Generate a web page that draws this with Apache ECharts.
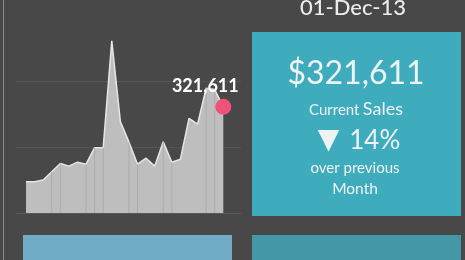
<!DOCTYPE html>
<html>
<head>
<meta charset="utf-8">
<script src="https://cdn.jsdelivr.net/npm/echarts@6/dist/echarts.min.js"></script>
<style>
html,body{margin:0;padding:0;background:#484848;}
#c{width:465px;height:260px;}
</style>
</head>
<body>
<div id="c"></div>
<script>
// ---- data ----
var months = ['Jan-12','Feb-12','Mar-12','Apr-12','May-12','Jun-12','Jul-12','Aug-12','Sep-12','Oct-12','Nov-12','Dec-12',
              'Jan-13','Feb-13','Mar-13','Apr-13','May-13','Jun-13','Jul-13','Aug-13','Sep-13','Oct-13','Nov-13','Dec-13'];
var sales = [95000, 95000, 100000, 125000, 150000, 142000, 154000, 148000, 198000, 198000, 522000, 277000,
             215000, 148000, 166000, 142000, 216000, 154000, 163000, 287000, 269000, 378000, 374000, 321611];
var dividerIdx = [3, 4, 7, 8, 9, 12, 13, 16, 17, 21, 22];
var yTicks = [0, 200000, 400000];
var currentDate = '01-Dec-13';

// ---- derived ----
var lastI = sales.length - 1;
var current = sales[lastI];
var prev = sales[lastI - 1];
var pct = Math.round(Math.abs(1 - current / prev) * 100);
var arrow = current < prev ? '▼' : '▲';
function fmt(n){ return n.toLocaleString('en-US'); }

var lineData = sales.map(function(v, i){ return [i, v]; });
var divData = dividerIdx.map(function(i){ return [i, sales[i]]; });

var chart = echarts.init(document.getElementById('c'), null, {renderer:'canvas'});
var FONT = 'Lato, "Open Sans", sans-serif';
var TXT = '#eef4f5';

chart.setOption({
  backgroundColor: '#484848',
  animation: false,
  grid: { left: 16, right: 224, top: 15, bottom: 47 },
  xAxis: {
    type: 'value', min: -1.1655, max: 25.063,
    axisLine: { show: true, lineStyle: { color: '#585858', width: 1 } },
    axisTick: { show: false }, axisLabel: { show: false }, splitLine: { show: false }
  },
  yAxis: {
    type: 'value', min: yTicks[0], max: 600000, interval: yTicks[1] - yTicks[0],
    axisLine: { show: false }, axisTick: { show: false }, axisLabel: { show: false },
    splitLine: { show: true, showMinLine: false, showMaxLine: false, lineStyle: { color: '#545454', width: 1 } }
  },
  series: [
    {
      type: 'line', data: lineData, symbol: 'none',
      lineStyle: { color: '#e6e6e6', width: 1.5 },
      areaStyle: { color: '#bebebe', opacity: 1 },
      z: 2
    },
    {
      type: 'bar', data: divData, barWidth: 1,
      itemStyle: { color: '#acacac' }, z: 3, silent: true
    },
    {
      type: 'scatter', data: [[lastI, current]], symbolSize: 16,
      itemStyle: { color: '#f0527a', opacity: 1 }, z: 5,
      label: {
        show: true, position: 'top', distance: 4, offset: [-18, 0],
        formatter: function(){ return fmt(current); },
        color: '#ffffff', fontWeight: 'bold', fontSize: 18, fontFamily: FONT
      }
    }
  ],
  graphic: [
    { type: 'rect', shape: { x: 3, y: 0, width: 1, height: 260 }, style: { fill: '#8a8a8a' }, silent: true },
    { type: 'rect', shape: { x: 252, y: 32, width: 209, height: 184 }, style: { fill: '#3eacbd' }, silent: true },
    { type: 'rect', shape: { x: 23, y: 235, width: 209, height: 30 }, style: { fill: '#72abc5' }, silent: true },
    { type: 'rect', shape: { x: 252, y: 235, width: 209, height: 30 }, style: { fill: '#4397a6' }, silent: true },
    { type: 'text', x: 353, y: 8, style: { text: currentDate, fill: '#ececec', font: '500 22px ' + FONT, align: 'center', verticalAlign: 'middle' } },
    { type: 'text', x: 356, y: 74, style: { text: '$' + fmt(current), fill: TXT, font: '32px ' + FONT, align: 'center', verticalAlign: 'middle' } },
    { type: 'text', x: 356, y: 109, style: {
        text: '{a|Current} {b|Sales}', align: 'center', verticalAlign: 'middle', fill: TXT,
        rich: { a: { fontSize: 15, fontFamily: FONT, fill: TXT, verticalAlign: 'bottom' },
                b: { fontSize: 18, fontFamily: FONT, fill: TXT, verticalAlign: 'bottom' } } } },
    { type: 'text', x: 359, y: 141, style: {
        text: '{t|' + arrow + '}{p|' + pct + '%}', align: 'center', verticalAlign: 'middle', fill: TXT,
        rich: { t: { fontSize: 28, fontFamily: '"DejaVu Sans", sans-serif', fill: TXT, verticalAlign: 'middle' },
                p: { fontSize: 26, fontFamily: FONT, fill: TXT, verticalAlign: 'middle', padding: [0, 0, 0, 10] } } } },
    { type: 'text', x: 355, y: 168, style: { text: 'over previous', fill: TXT, font: '15px ' + FONT, align: 'center', verticalAlign: 'middle' } },
    { type: 'text', x: 355, y: 189, style: { text: 'Month', fill: TXT, font: '15.5px ' + FONT, align: 'center', verticalAlign: 'middle' } }
  ]
});
</script>
</body>
</html>
